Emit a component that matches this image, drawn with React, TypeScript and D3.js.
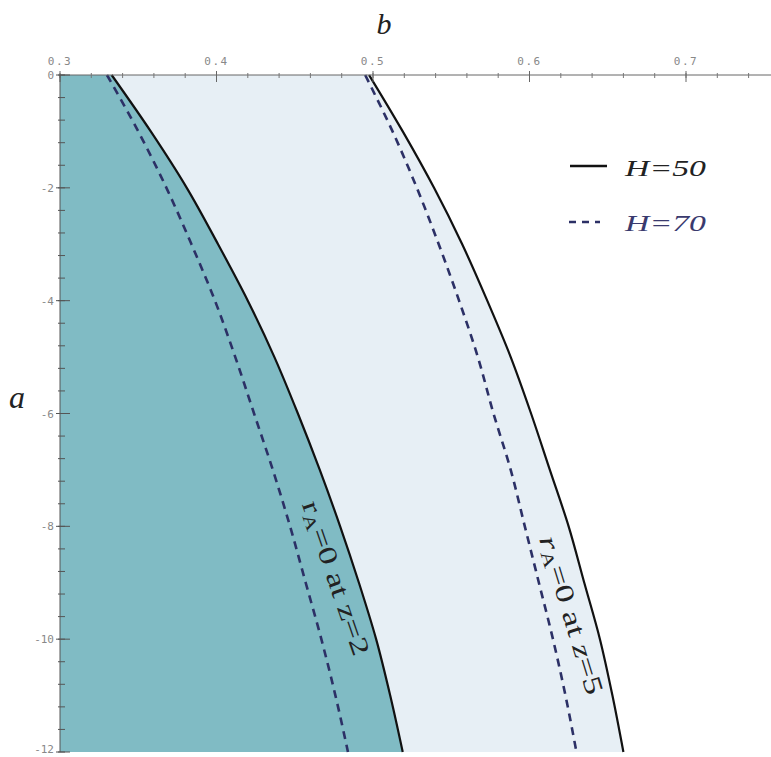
import React from "react";
import * as d3 from "d3";

// Sample points along each boundary: a (vertical) and b (horizontal)
const aValues = [0, -1, -2, -3, -4, -5, -6, -7, -8, -9, -10, -11, -12];
const bSolidZ2 = [0.333, 0.358, 0.381, 0.401, 0.42, 0.437, 0.452, 0.466, 0.479, 0.491, 0.502, 0.511, 0.519];
const bDashedZ2 = [0.33, 0.35, 0.368, 0.384, 0.399, 0.412, 0.424, 0.436, 0.447, 0.457, 0.467, 0.476, 0.484];
const bSolidZ5 = [0.4975, 0.519, 0.539, 0.557, 0.573, 0.588, 0.601, 0.613, 0.625, 0.635, 0.645, 0.653, 0.66];
const bDashedZ5 = [0.495, 0.5125, 0.528, 0.542, 0.555, 0.567, 0.577, 0.588, 0.597, 0.606, 0.615, 0.623, 0.63];

const bMajorTicks = [0.3, 0.4, 0.5, 0.6, 0.7];
const aMajorTicks = [0, -2, -4, -6, -8, -10, -12];
const legendLabels = ["H=50", "H=70"];

const W = 771;
const H = 757;

const x = d3.scaleLinear().domain([0.3, 0.7]).range([60, 686]);
const y = d3.scaleLinear().domain([0, -12]).range([75, 752]);

type Pt = { a: number; b: number };
const pts = (bs: number[]): Pt[] => aValues.map((a, i) => ({ a, b: bs[i] }));

const line = d3
  .line<Pt>()
  .x((d) => x(d.b))
  .y((d) => y(d.a))
  .curve(d3.curveMonotoneY);

const TEAL = "#80bbc4";
const PALE = "#e7eff5";
const NAVY = "#2c3066";

export default function App() {
  const s2 = pts(bSolidZ2);
  const s5 = pts(bSolidZ5);

  const tealArea = d3
    .area<Pt>()
    .x0(() => x(0.3))
    .x1((d) => x(d.b))
    .y((d) => y(d.a))
    .curve(d3.curveMonotoneY)(s2) as string;

  const paleArea = d3
    .area<Pt>()
    .x0((_, i) => x(bSolidZ2[i]))
    .x1((d) => x(d.b))
    .y((d) => y(d.a))
    .curve(d3.curveMonotoneY)(s5) as string;

  const bMinor = d3.range(0.3, 0.7601, 0.02).map((v) => +v.toFixed(2));
  const aMinor = d3.range(0, -12.01, -0.4).map((v) => +v.toFixed(1));

  const tickFont = "'DejaVu Sans Mono', 'Liberation Mono', monospace";
  const serif = "'Liberation Serif', 'DejaVu Serif', serif";

  return (
    <svg
      width={W}
      height={H}
      style={{ position: "absolute", left: 0, top: 0, background: "#fff" }}
    >
      <path d={paleArea} fill={PALE} />
      <path d={tealArea} fill={TEAL} />

      {/* boundary curves */}
      <path d={line(s2) as string} fill="none" stroke="#111" strokeWidth={2.2} />
      <path d={line(s5) as string} fill="none" stroke="#111" strokeWidth={2.2} />
      <path
        d={line(pts(bDashedZ2)) as string}
        fill="none"
        stroke={NAVY}
        strokeWidth={2.6}
        strokeDasharray="8 6"
      />
      <path
        d={line(pts(bDashedZ5)) as string}
        fill="none"
        stroke={NAVY}
        strokeWidth={2.6}
        strokeDasharray="8 6"
      />

      {/* top axis (b) */}
      <line x1={x(0.3)} x2={W} y1={y(0)} y2={y(0)} stroke="#666" strokeWidth={1} />
      {bMinor.map((v) => (
        <line key={"bm" + v} x1={x(v)} x2={x(v)} y1={y(0) - 2} y2={y(0) + 3} stroke="#777" strokeWidth={1} />
      ))}
      {bMajorTicks.map((v) => (
        <g key={"bM" + v}>
          <line x1={x(v)} x2={x(v)} y1={y(0) - 4} y2={y(0) + 7} stroke="#666" strokeWidth={1} />
          <text
            x={x(v)}
            y={65}
            textAnchor="middle"
            fontFamily={tickFont}
            fontSize={11}
            letterSpacing={1.5}
            fill="#888"
          >
            {v.toFixed(1)}
          </text>
        </g>
      ))}

      {/* left axis (a) */}
      <line x1={x(0.3)} x2={x(0.3)} y1={y(0)} y2={y(-12)} stroke="#555" strokeWidth={1} />
      {aMinor.map((v) => (
        <line key={"am" + v} x1={x(0.3) - 2} x2={x(0.3) + 5} y1={y(v)} y2={y(v)} stroke="#555" strokeWidth={1} />
      ))}
      {aMajorTicks.map((v) => (
        <g key={"aM" + v}>
          <line x1={x(0.3) - 4} x2={x(0.3) + 10} y1={y(v)} y2={y(v)} stroke="#555" strokeWidth={1} />
          <text
            x={x(0.3) - 6}
            y={Math.min(y(v) + 4, H - 4)}
            textAnchor="end"
            fontFamily={tickFont}
            fontSize={11}
            fill="#888"
          >
            {v === 0 ? "0" : "-" + Math.abs(v)}
          </text>
        </g>
      ))}

      {/* axis titles */}
      <text x={384} y={34} textAnchor="middle" fontFamily={serif} fontStyle="italic" fontSize={30} fill="#222">
        b
      </text>
      <text x={17} y={408} textAnchor="middle" fontFamily={serif} fontStyle="italic" fontSize={32} fill="#222">
        a
      </text>

      {/* legend */}
      <line x1={570} x2={607} y1={166} y2={166} stroke="#111" strokeWidth={2.5} />
      <text
        x={625}
        y={176}
        fontFamily={serif}
        fontStyle="italic"
        fontSize={23}
        fill="#222"
        textLength={81}
        lengthAdjust="spacingAndGlyphs"
      >
        {legendLabels[0]}
      </text>
      <line x1={569} x2={600} y1={222} y2={222} stroke={NAVY} strokeWidth={2.6} strokeDasharray="7 6" />
      <text
        x={625}
        y={231}
        fontFamily={serif}
        fontStyle="italic"
        fontSize={23}
        fill="#3a3a6e"
        textLength={81}
        lengthAdjust="spacingAndGlyphs"
      >
        {legendLabels[1]}
      </text>

      {/* curve labels */}
      <g transform={`translate(${x(0.4764)},${y(-8.915)}) rotate(71)`}>
        <text
          textAnchor="middle"
          dominantBaseline="central"
          fontFamily={serif}
          fontSize={26}
          fill="#222"
          textLength={162}
          lengthAdjust="spacingAndGlyphs"
        >
          r<tspan fontSize={17} dy={6}>A</tspan>
          <tspan dy={-6}>=0 at z=2</tspan>
        </text>
      </g>
      <g transform={`translate(${x(0.627)},${y(-9.57)}) rotate(73)`}>
        <text
          textAnchor="middle"
          dominantBaseline="central"
          fontFamily={serif}
          fontSize={26}
          fill="#222"
          textLength={165}
          lengthAdjust="spacingAndGlyphs"
        >
          <tspan fontStyle="italic">r</tspan>
          <tspan fontSize={17} dy={6}>A</tspan>
          <tspan dy={-6}>=0 at </tspan>
          <tspan fontStyle="italic">z</tspan>
          <tspan>=5</tspan>
        </text>
      </g>
    </svg>
  );
}
